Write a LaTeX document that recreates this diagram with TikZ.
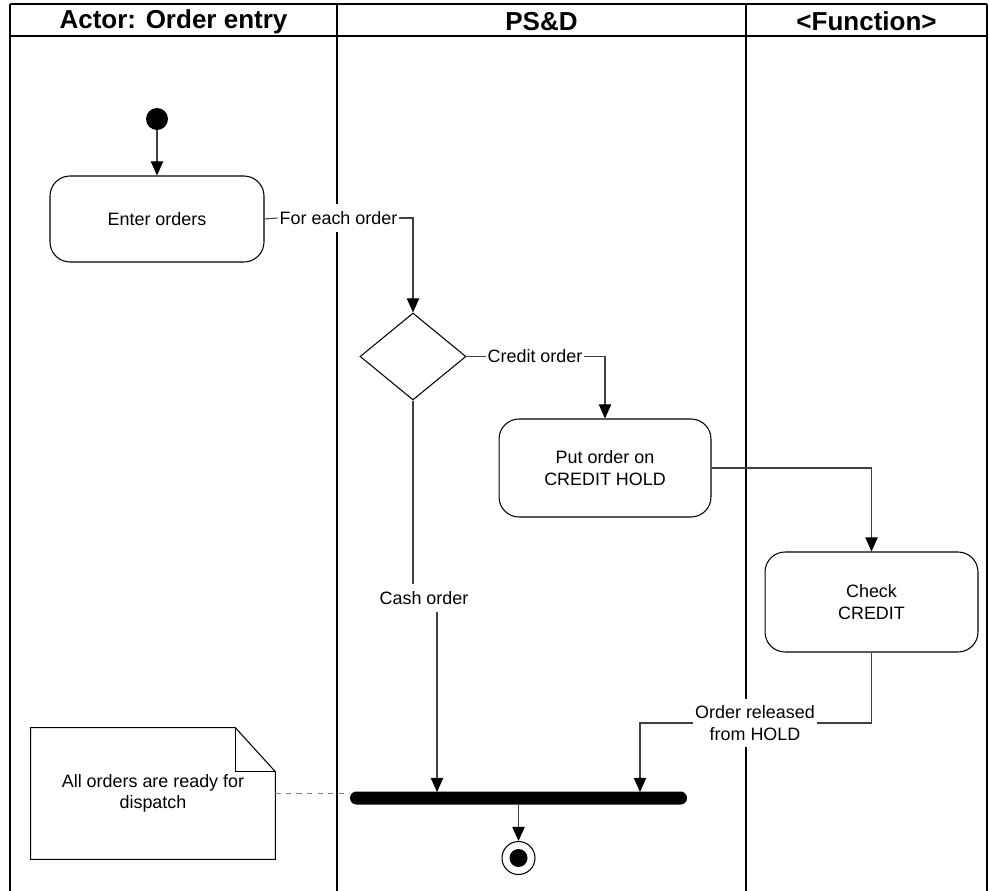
\documentclass[tikz,border=0pt]{standalone}
\usepackage{fontspec}
\setmainfont{Liberation Sans}
\usetikzlibrary{shapes.geometric, arrows.meta, positioning, calc}
\definecolor{LineGrey}{rgb}{0.25,0.25,0.25}
\definecolor{NoteGrey}{rgb}{0.5,0.5,0.5}

\begin{document}
\begin{tikzpicture}[x=0.02cm, y=-0.02cm,
    lane/.style={line width=1.1pt, black},
    head/.style={font=\bfseries\fontsize{14.8}{17}\selectfont},
    txt/.style={font=\fontsize{10.2}{12.3}\selectfont},
    action/.style={txt, draw, rounded corners=0.4cm, line width=0.6pt, align=center},
    flow/.style={LineGrey, line width=0.6pt},
    arr/.style={flow, -{Triangle[length=8pt, width=7pt, color=black]}},
    lbl/.style={txt, fill=white, inner xsep=1pt, inner ysep=4pt, align=center}]

    \useasboundingbox (0,0) rectangle (989,891);

    % swimlanes
    \draw[lane] (10,4) -- (987,4);
    \draw[lane] (10,36) -- (987,36);
    \foreach \x in {10,337,746,987}
        \draw[lane] (\x,4) -- (\x,891);

    % lane titles
    \node[head] (hActor) at (173.5,21.5) {Actor: Order entry};
    \node[head] (hPSD) at (541.5,21.5) {PS\&D};
    \node[head] (hFunc) at (866.5,21.5) {<Function>};

    % initial node and actions
    \node[circle, fill, inner sep=0, minimum size=0.44cm] (start) at (157,119) {};
    \node[action, minimum width=4.28cm, minimum height=1.72cm] (enter) at (157,219) {Enter orders};
    \node[diamond, draw, line width=0.6pt, inner sep=0,
          minimum width=2.12cm, minimum height=1.74cm] (dec) at (413,356.5) {};
    \node[action, minimum width=4.24cm, minimum height=1.96cm] (hold) at (605,468) {Put order on\\CREDIT HOLD};
    \node[action, minimum width=4.26cm, minimum height=2.0cm] (check) at (871.5,602) {Check\\CREDIT};

    % join bar and final node
    \node[fill, rounded corners=3.6pt, inner sep=0,
          minimum width=6.74cm, minimum height=0.26cm] (join) at (518.5,798) {};
    \node[circle, draw, line width=0.6pt, inner sep=0, minimum size=0.66cm] (stop) at (518.5,858) {};
    \node[circle, fill, inner sep=0, minimum size=0.36cm] (stopdot) at (stop) {};

    % note
    \node[txt, align=center, minimum width=4.88cm, minimum height=2.62cm] (note) at (153,793.5)
        {All orders are ready for\\dispatch};
    \draw[line width=0.6pt] (note.south west) -- (note.north west)
        -- ($(note.north east)+(-40,0)$) -- ($(note.north east)+(0,44)$)
        -- (note.south east) -- cycle;
    \draw[line width=0.6pt] ($(note.north east)+(-40,0)$) |- ($(note.north east)+(0,44)$);
    \draw[NoteGrey, dashed, line width=0.5pt] (note.east) -- (note.east -| join.west);

    % guard labels
    \node[lbl] (each) at (338.5,218) {For each order};
    \node[lbl] (credit) at (535,356.5) {Credit order};
    \node[lbl] (cash) at (424,598) {Cash order};
    \node[lbl] (rel) at (755,723) {Order released\\from HOLD};

    \coordinate (jL) at (437,792);
    \coordinate (jR) at (640,792);

    % flows
    \draw[arr] (start) -- (enter);
    \draw[flow] (enter.east) -- (each.west);
    \draw[arr] (each.east) -| (dec.north);
    \draw[flow] (dec.east) -- (credit.west);
    \draw[arr] (credit.east) -| (hold.north);
    \draw[arr] (hold.east) -| (check.north);
    \draw[flow] (check.south) |- (rel.east);
    \draw[arr] (rel.west) -| (jR);
    \draw[flow] (dec.south) -- (dec.south |- cash.north);
    \draw[arr] (jL |- cash.south) -- (jL);
    \draw[arr] (join) -- (stop);

\end{tikzpicture}
\end{document}
